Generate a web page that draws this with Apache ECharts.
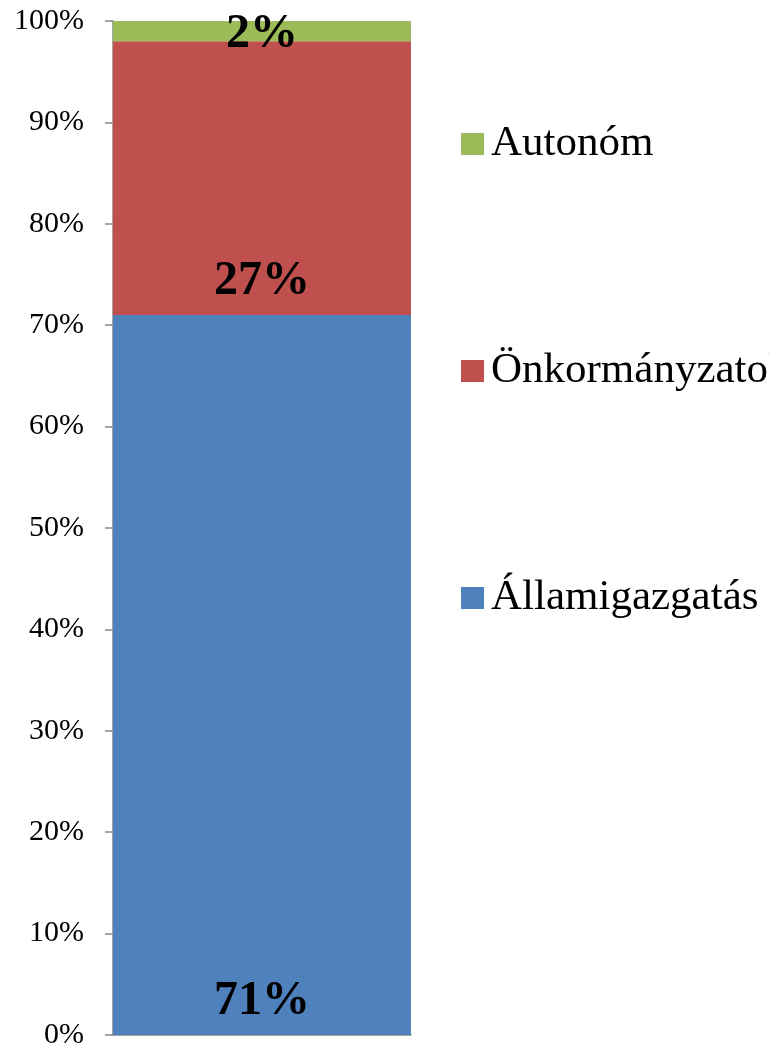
<!DOCTYPE html>
<html>
<head>
<meta charset="utf-8">
<script src="https://cdn.jsdelivr.net/npm/echarts@6/dist/echarts.min.js"></script>
<style>
  html, body { margin: 0; padding: 0; background: #fff; }
  #chart { width: 769px; height: 1051px; }
</style>
</head>
<body>
<div id="chart"></div>
<script>
const categories = ['']
const allamigazgatas = [71]
const onkormanyzatok = [27]
const autonom = [2]
const legendOrder = ['Autonóm', 'Önkormányzatok', 'Államigazgatás']

const chart = echarts.init(document.getElementById('chart'))

const serif = 'Liberation Serif'

function labelOpt (pos, dist, offset) {
  return {
    show: true,
    position: pos,
    distance: dist,
    offset: offset || [0, 0],
    formatter: '{c}%',
    fontFamily: serif,
    fontWeight: 'bold',
    fontSize: 48,
    color: '#000'
  }
}

const option = {
  animation: false,
  grid: {
    left: 113,
    right: 358,
    top: 21,
    bottom: 16
  },
  legend: {
    orient: 'vertical',
    left: 456,
    top: 117,
    itemWidth: 23,
    itemHeight: 22,
    itemGap: 183,
    icon: 'rect',
    data: legendOrder,
    textStyle: {
      fontFamily: serif,
      fontSize: 43,
      color: '#000',
      lineHeight: 44,
      padding: [0, 0, 0, 2]
    }
  },
  xAxis: {
    type: 'category',
    data: categories,
    axisLine: { show: true, lineStyle: { color: '#868686', width: 1.5 } },
    axisTick: { show: false },
    axisLabel: { show: false }
  },
  yAxis: {
    type: 'value',
    min: 0,
    max: 100,
    interval: 10,
    splitLine: { show: false },
    axisLine: { show: true, lineStyle: { color: '#868686', width: 1.5 } },
    axisTick: { show: true, length: 8, lineStyle: { color: '#868686', width: 1.5 } },
    axisLabel: {
      formatter: '{value}%',
      margin: 29,
      fontFamily: serif,
      fontSize: 30,
      color: '#000'
    }
  },
  series: [
    {
      name: 'Államigazgatás',
      type: 'bar',
      stack: 'total',
      barWidth: '100%',
      itemStyle: { color: '#4F81BD' },
      label: labelOpt('insideBottom', 9),
      data: allamigazgatas
    },
    {
      name: 'Önkormányzatok',
      type: 'bar',
      stack: 'total',
      itemStyle: { color: '#C0504D' },
      label: labelOpt('insideBottom', 9),
      data: onkormanyzatok
    },
    {
      name: 'Autonóm',
      type: 'bar',
      stack: 'total',
      itemStyle: { color: '#9BBB59' },
      label: labelOpt('inside', 0, [0, 3]),
      data: autonom
    }
  ]
}

chart.setOption(option)
</script>
</body>
</html>
